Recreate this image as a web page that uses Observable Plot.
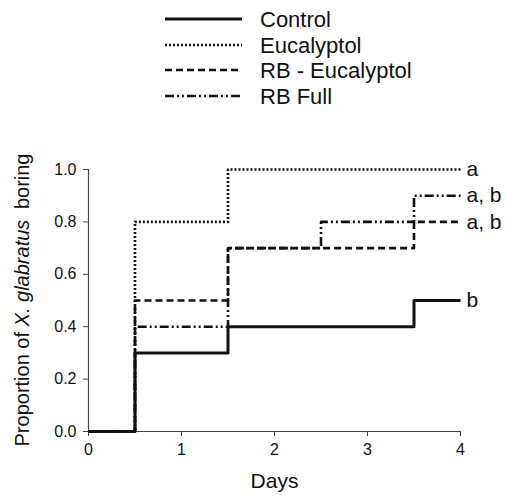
<!DOCTYPE html>
<html><head><meta charset="utf-8">
<script src="https://cdn.jsdelivr.net/npm/d3@7"></script>
<script src="https://cdn.jsdelivr.net/npm/@observablehq/plot@0.6"></script>
<style>
body{margin:0;background:#fff;font-family:"Liberation Sans",Arial,sans-serif;}
#legend{height:125px;}
#legend svg, #chart svg{display:block;}
</style></head><body>
<div id="legend"></div><div id="chart"></div>
<script>
// ---- data ----
const days = [0, 0.5, 1.5, 2.5, 3.5, 4];
const seriesNames = ["Control", "Eucalyptol", "RB - Eucalyptol", "RB Full"];
const control = [0, 0.3, 0.4, 0.4, 0.5, 0.5];
const eucalyptol = [0, 0.8, 1.0, 1.0, 1.0, 1.0];
const rbEucalyptol = [0, 0.5, 0.7, 0.7, 0.8, 0.8];
const rbFull = [0, 0.4, 0.7, 0.8, 0.9, 0.9];
const groupLabels = ["b", "a", "a, b", "a, b"];
const xTicks = [0, 1, 2, 3, 4];
const yTicks = [0, 0.2, 0.4, 0.6, 0.8, 1.0];

// ---- styles ----
const dashes = [null, "2,2", "7,4", "9,3,2,3,2,3"];
const widths = [3, 2.6, 2.6, 2.6];
const font = "'Liberation Sans', Arial, sans-serif";

const values = [control, eucalyptol, rbEucalyptol, rbFull];
const series = seriesNames.map((name, i) => ({
  name, dash: dashes[i], width: widths[i], label: groupLabels[i],
  data: days.map((d, j) => ({day: d, p: values[i][j]}))
}));
const ends = series.map(s => ({day: days[days.length - 1], p: s.data[s.data.length - 1].p, label: s.label}));

// ---- legend (above the plot) ----
const leg = d3.select("#legend").append("svg").attr("width", 506).attr("height", 125)
  .style("font-family", font);
const rowY = [19, 45, 70, 96];
series.forEach((s, i) => {
  leg.append("line").attr("x1", 165).attr("x2", 242).attr("y1", rowY[i]).attr("y2", rowY[i])
    .attr("stroke", "#111").attr("stroke-width", s.width)
    .attr("stroke-dasharray", s.dash);
  leg.append("text").attr("x", 260).attr("y", rowY[i]).attr("dy", "0.36em")
    .attr("font-size", 22).attr("fill", "#111").text(s.name);
});

// ---- plot ----
const W = 506, H = 374, mt = 44, mb = 68, ml = 88, mr = 46;
const plot = Plot.plot({
  width: W, height: H,
  marginTop: mt, marginBottom: mb, marginLeft: ml, marginRight: mr,
  style: {fontFamily: font, background: "#fff", color: "#111"},
  x: {domain: [0, 4]},
  y: {domain: [0, 1]},
  marks: [
    Plot.ruleY([0], {x1: 0, x2: 4, stroke: "#444", strokeWidth: 1.2}),
    Plot.ruleX([0], {y1: 0, y2: 1, stroke: "#444", strokeWidth: 1.2}),
    Plot.axisX({ticks: xTicks, tickFormat: d3.format("d"), tickSize: 5, tickPadding: 7,
      fontSize: 16, label: null, stroke: "#444"}),
    Plot.axisY({ticks: yTicks, tickFormat: d3.format(".1f"), tickSize: 5, tickPadding: 7,
      fontSize: 16, label: null, stroke: "#444"}),
    ...series.map(s => Plot.line(s.data, {
      x: "day", y: "p", curve: "step-after", stroke: "#111",
      strokeWidth: s.width, strokeDasharray: s.dash || undefined, strokeLinecap: "butt"
    })),
    Plot.text(ends, {x: "day", y: "p", text: "label", textAnchor: "start", dx: 6,
      fontSize: 21, fill: "#111"}),
    Plot.text(["Days"], {frameAnchor: "bottom", dy: 56, fontSize: 21, fill: "#111"})
  ]
});
document.getElementById("chart").appendChild(plot);

// y axis title with italic species name
const svg = d3.select(plot);
const cy = mt + (H - mt - mb) / 2;
const yt = svg.append("text")
  .attr("transform", `translate(22,${cy}) rotate(-90)`)
  .attr("text-anchor", "middle").attr("dy", "0.36em")
  .attr("font-size", 20).attr("fill", "#111").style("font-family", font);
yt.append("tspan").text("Proportion of ");
yt.append("tspan").attr("font-style", "italic").text("X. glabratus");
yt.append("tspan").attr("dx", 5).text(" boring");
</script>
</body></html>
